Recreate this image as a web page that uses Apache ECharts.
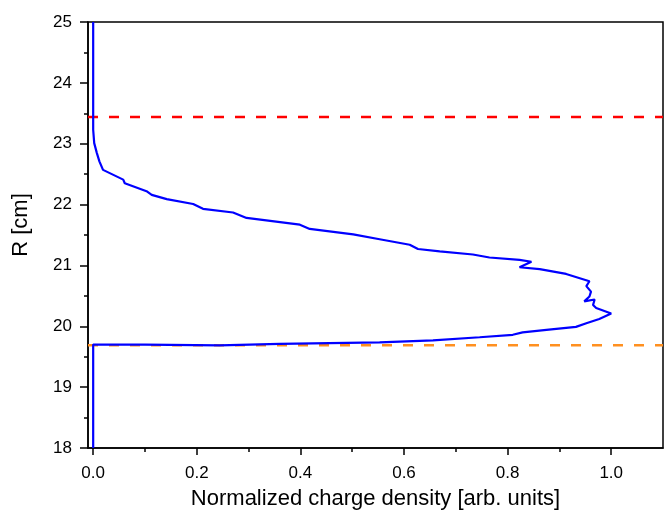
<!DOCTYPE html>
<html>
<head>
<meta charset="utf-8">
<script src="https://cdn.jsdelivr.net/npm/echarts@6/dist/echarts.min.js"></script>
<style>html,body{margin:0;padding:0;background:#fff}#c{width:668px;height:513px}</style>
</head>
<body>
<div id="c"></div>
<script>
// Blue profile: radius R [cm] and normalized charge density, in path order
var radii = [18.0, 19.70, 19.70, 19.686, 19.71, 19.735, 19.77, 19.82, 19.86, 19.90, 19.94, 19.99, 20.05, 20.12, 20.21, 20.30, 20.35, 20.44, 20.41, 20.49, 20.57, 20.66, 20.74, 20.86, 20.94, 20.97, 21.06, 21.09, 21.13, 21.18, 21.23, 21.27, 21.34, 21.43, 21.51, 21.60, 21.67, 21.78, 21.87, 21.93, 22.01, 22.09, 22.16, 22.22, 22.35, 22.41, 22.57, 22.71, 22.85, 23.01, 23.23, 25.0];
var density = [0.0, 0.0, 0.10, 0.244, 0.36, 0.553, 0.656, 0.746, 0.81, 0.829, 0.875, 0.932, 0.952, 0.977, 1.000, 0.971, 0.965, 0.968, 0.948, 0.958, 0.961, 0.952, 0.958, 0.913, 0.862, 0.823, 0.846, 0.823, 0.765, 0.733, 0.669, 0.627, 0.611, 0.553, 0.502, 0.418, 0.399, 0.296, 0.27, 0.212, 0.193, 0.142, 0.113, 0.103, 0.061, 0.058, 0.019, 0.012, 0.007, 0.002, 0.0, 0.0];
// Horizontal reference lines
var redLineR = 23.44;
var orangeLineR = 19.69;
// Axis ranges and ticks
var xMin = -0.01, xMax = 1.1;
var xMajorTicks = [0, 0.2, 0.4, 0.6, 0.8, 1.0];
var xMinorTicks = [0.1, 0.3, 0.5, 0.7, 0.9];
var yMin = 18, yMax = 25;

var profile = radii.map(function (r, i) { return [density[i], r]; });
var font = 'Liberation Sans, Arial, sans-serif';

var chart = echarts.init(document.getElementById('c'), null, {renderer: 'canvas'});
chart.setOption({
  animation: false,
  backgroundColor: '#fff',
  grid: {left: 88, right: 5, top: 22, bottom: 65, outerBoundsMode: 'none', containLabel: false,
         show: true, borderColor: '#000', borderWidth: 1.5, backgroundColor: 'transparent'},
  xAxis: [{
    type: 'value', min: xMin, max: xMax, position: 'bottom',
    name: 'Normalized charge density [arb. units]', nameLocation: 'middle', nameGap: 40,
    nameTextStyle: {fontFamily: font, fontSize: 22, color: '#000'},
    axisLine: {show: true, onZero: false, lineStyle: {color: '#000', width: 1.5}},
    axisTick: {show: true, inside: false, length: 7, customValues: xMajorTicks, lineStyle: {color: '#000', width: 1.5}},
    axisLabel: {show: true, customValues: xMajorTicks, margin: 17, fontFamily: font, fontSize: 17, color: '#000', formatter: function (v) { return v.toFixed(1); }},
    splitLine: {show: false}
  }, {
    type: 'value', min: xMin, max: xMax, position: 'bottom', offset: 0,
    axisLine: {show: false, onZero: false},
    axisTick: {show: true, inside: false, length: 4, customValues: xMinorTicks, lineStyle: {color: '#000', width: 1.5}},
    axisLabel: {show: false},
    splitLine: {show: false}
  }],
  yAxis: {
    type: 'value', min: yMin, max: yMax, interval: 1,
    name: 'R [cm]', nameLocation: 'middle', nameGap: 56,
    nameTextStyle: {fontFamily: font, fontSize: 22, color: '#000', padding: [0, 0, 0, 20]},
    axisLine: {show: true, onZero: false, lineStyle: {color: '#000', width: 1.5}},
    axisTick: {show: true, inside: false, length: 8, lineStyle: {color: '#000', width: 1.5}},
    minorTick: {show: true, splitNumber: 2, length: 4, lineStyle: {color: '#000', width: 1.5}},
    axisLabel: {margin: 16, fontFamily: font, fontSize: 17, color: '#000'},
    splitLine: {show: false}, minorSplitLine: {show: false}
  },
  series: [{
    type: 'line', data: [[xMin, redLineR], [xMax, redLineR]], showSymbol: false, silent: true,
    lineStyle: {color: '#ff0000', width: 2.5, type: [10, 11]}
  }, {
    type: 'line', data: [[xMin, orangeLineR], [xMax, orangeLineR]], showSymbol: false, silent: true,
    lineStyle: {color: '#ff9020', width: 2.5, type: [10, 11]}
  }, {
    type: 'line', data: profile, showSymbol: false, smooth: false, silent: true,
    lineStyle: {color: '#0000ff', width: 2.2}
  }]
});
</script>
</body>
</html>
